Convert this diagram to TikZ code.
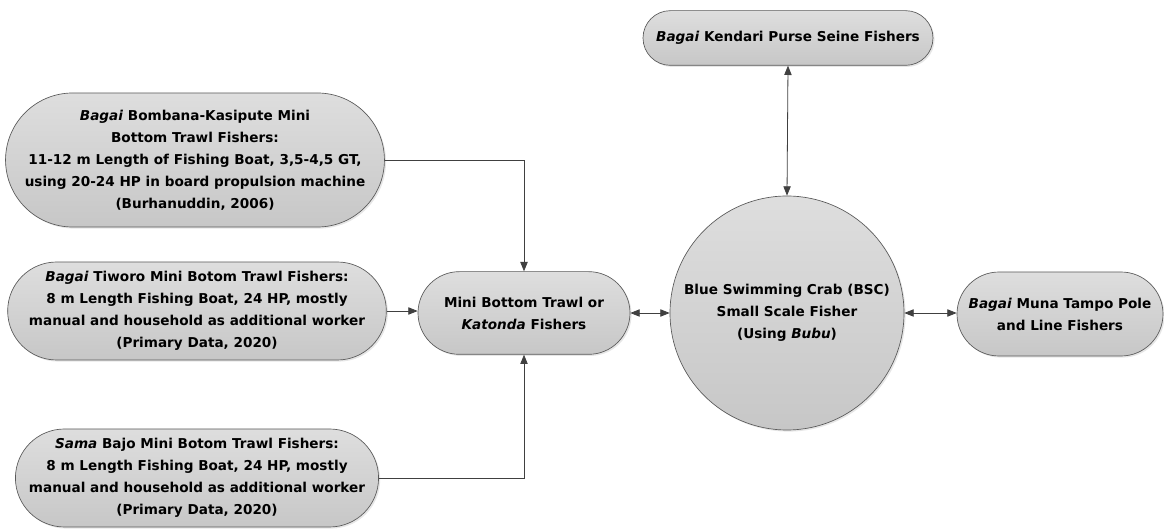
\documentclass[tikz,border=0pt]{standalone}
\usepackage{fontspec}
\setmainfont{DejaVu Sans}
\usetikzlibrary{positioning, shapes.misc, shadows, arrows.meta}

\tikzset{
	fisher/.style={rounded rectangle, draw=black!65, line width=0.5pt,
		top color=black!13, bottom color=black!22,
		drop shadow={opacity=0.2, shadow xshift=1.2pt, shadow yshift=-1.2pt},
		align=center, inner sep=0pt,
		font=\bfseries\fontsize{10.2}{16.5}\selectfont},
	crabnode/.style={fisher, circle},
	tip/.tip={Triangle[length=7pt, width=5.5pt]},
	link/.style={draw=black!75, line width=0.6pt, -tip},
	both/.style={link, tip-tip}
}

\begin{document}
\begin{tikzpicture}[x=0.75pt, y=-0.75pt]
	\useasboundingbox (0,0) rectangle (1164,530);
	\node[fisher, inner xsep=-2.5pt, minimum width=282pt, minimum height=100.5pt] (bombana) at (195,160)
	{\textit{Bagai} Bombana-Kasipute Mini\\Bottom Trawl Fishers:\\11-12 m Length of Fishing Boat, 3,5-4,5 GT,\\using 20-24 HP in board propulsion machine\\(Burhanuddin, 2006)};
	\node[fisher, inner xsep=-5pt, minimum width=274pt, minimum height=73.5pt] (tiworo) at (197,311)
	{\textit{Bagai} Tiworo Mini Botom Trawl Fishers:\\8 m Length Fishing Boat, 24 HP, mostly\\manual and household as additional worker\\(Primary Data, 2020)};
	\node[fisher, inner xsep=-5pt, minimum width=272pt, minimum height=73.5pt] (sama) at (197,478)
	{\textit{Sama} Bajo Mini Botom Trawl Fishers:\\8 m Length Fishing Boat, 24 HP, mostly\\manual and household as additional worker\\(Primary Data, 2020)};
	\node[fisher, minimum width=159pt, minimum height=62pt] (katonda) at (524,313)
	{Mini Bottom Trawl or\\\textit{Katonda} Fishers};
	\node[crabnode, minimum size=175.5pt] (crab) at (787,313)
	{Blue Swimming Crab (BSC)\\Small Scale Fisher\\(Using \textit{Bubu})};
	\node[fisher, minimum width=217.5pt, minimum height=41pt] (kendari) at (788,38)
	{\textit{Bagai} Kendari Purse Seine Fishers};
	\node[fisher, minimum width=154.5pt, minimum height=63pt] (muna) at (1060,314)
	{\textit{Bagai} Muna Tampo Pole\\and Line Fishers};

	\draw[link] (bombana.east) -| (katonda.north);
	\draw[link] (tiworo.east) -- (tiworo.east -| katonda.west);
	\draw[link] (sama.east) -| (katonda.south);
	\draw[both] (katonda.east) -- (katonda.east -| crab.west);
	\draw[both] (crab.north) -- (kendari.south);
	\draw[both] (crab.east) -- (crab.east -| muna.west);
\end{tikzpicture}
\end{document}
